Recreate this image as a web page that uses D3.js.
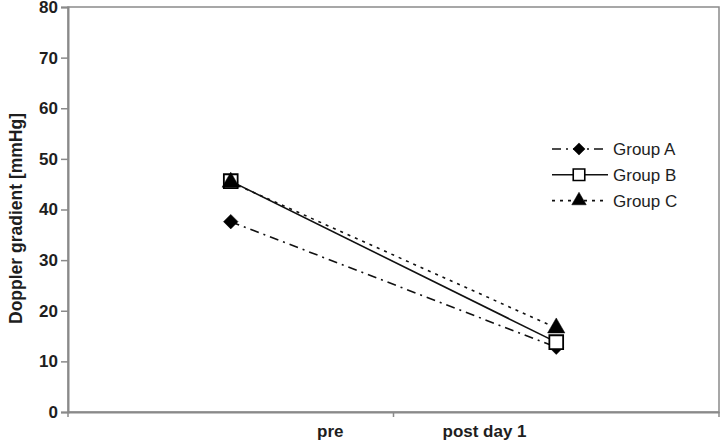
<!DOCTYPE html>
<html>
<head>
<meta charset="utf-8">
<script src="https://cdn.jsdelivr.net/npm/d3@7"></script>
<style>
  body { margin: 0; background: #fff; }
  svg { font-family: "Liberation Sans", Arial, sans-serif; }
</style>
</head>
<body>
<svg id="grafico"></svg>
<script>
const largura = 726;
const altura = 442;
const margem = { top: 7, right: 7, bottom: 30, left: 68 };

// Dados
const momentos = ["pre", "post day 1"];
const grupos = ["Group A", "Group B", "Group C"];
const grupoA = [37.6, 12.8];
const grupoB = [45.6, 13.8];
const grupoC = [45.4, 16.6];
const ticksY = [0, 10, 20, 30, 40, 50, 60, 70, 80];

const series = [
  { nome: grupos[0], valores: grupoA, traco: "9,5,2,5", simbolo: d3.symbolSquare, giro: 45, tamanho: 105, preench: "#000" },
  { nome: grupos[1], valores: grupoB, traco: null, simbolo: d3.symbolSquare, giro: 0, tamanho: 190, preench: "#fff" },
  { nome: grupos[2], valores: grupoC, traco: "3,5", simbolo: d3.symbolTriangle, giro: 0, tamanho: 130, preench: "#000" }
];

const svg = d3.select("#grafico")
  .attr("width", largura)
  .attr("height", altura);

// Escalas
const x = d3.scaleBand()
  .domain(momentos)
  .range([margem.left, largura - margem.right]);

const y = d3.scaleLinear()
  .domain([0, 80])
  .range([altura - margem.bottom, margem.top]);

const cinza = "#8a8a8a";
const texto = "#1e1e1e";

// Moldura
svg.append("rect")
  .attr("x", margem.left)
  .attr("y", margem.top)
  .attr("width", largura - margem.left - margem.right)
  .attr("height", altura - margem.top - margem.bottom)
  .attr("fill", "none")
  .attr("stroke", cinza)
  .attr("stroke-width", 1.5);

// Eixo Y
const eixoY = svg.append("g")
  .attr("transform", `translate(${margem.left}, 0)`)
  .call(d3.axisLeft(y).tickValues(ticksY).tickSize(7).tickPadding(3));
eixoY.select(".domain").attr("stroke", cinza).attr("stroke-width", 2);
eixoY.selectAll(".tick line").attr("stroke", cinza).attr("stroke-width", 1.5);
eixoY.selectAll(".tick text")
  .attr("font-size", 17)
  .attr("font-weight", "bold")
  .attr("fill", texto)
  .attr("font-family", "Liberation Sans, Arial, sans-serif");

svg.append("text")
  .attr("transform", `translate(22, ${(margem.top + altura - margem.bottom) / 2 + 9}) rotate(-90)`)
  .attr("text-anchor", "middle")
  .attr("font-size", 17.5)
  .attr("font-weight", "bold")
  .attr("fill", texto)
  .text("Doppler gradient [mmHg]");

// Eixo X
const eixoX = svg.append("g")
  .attr("transform", `translate(0, ${altura - margem.bottom})`)
  .call(d3.axisBottom(x).tickSize(0).tickPadding(13));
eixoX.select(".domain").attr("stroke", cinza).attr("stroke-width", 2);
const meio = x(momentos[1]);
eixoX.selectAll(".tick text")
  .attr("font-size", 17)
  .attr("font-weight", "bold")
  .attr("fill", texto)
  .attr("font-family", "Liberation Sans, Arial, sans-serif")
  .attr("text-anchor", (d, i) => i === 0 ? "end" : "start")
  .attr("x", d => d === momentos[0]
    ? meio - 50 - (x(d) + x.bandwidth() / 2)
    : meio + 49 - (x(d) + x.bandwidth() / 2));

// Marcas de divisão das categorias
const limites = momentos.map(d => x(d)).concat([x.range()[1]]);
svg.append("g")
  .selectAll("line")
  .data(limites)
  .join("line")
  .attr("x1", d => d)
  .attr("x2", d => d)
  .attr("y1", altura - margem.bottom)
  .attr("y2", altura - margem.bottom + 5)
  .attr("stroke", cinza)
  .attr("stroke-width", 1.5);

// Linhas e símbolos
const cx = (d, i) => x(momentos[i]) + x.bandwidth() / 2;
const linha = d3.line()
  .x(cx)
  .y(d => y(d));

series.forEach(s => {
  svg.append("path")
    .datum(s.valores)
    .attr("fill", "none")
    .attr("stroke", "#111")
    .attr("stroke-width", 1.6)
    .attr("stroke-dasharray", s.traco)
    .attr("d", linha);
});

series.forEach(s => {
  svg.append("g")
    .selectAll("path")
    .data(s.valores)
    .join("path")
    .attr("transform", (d, i) => `translate(${cx(d, i)}, ${y(d)}) rotate(${s.giro})`)
    .attr("d", d3.symbol().type(s.simbolo).size(s.tamanho))
    .attr("fill", s.preench)
    .attr("stroke", "#000")
    .attr("stroke-width", s.preench === "#fff" ? 1.8 : 0.5);
});

// Legenda
const legenda = svg.append("g")
  .attr("transform", "translate(552, 149)");

const item = legenda.selectAll("g")
  .data(series)
  .join("g")
  .attr("transform", (d, i) => `translate(0, ${i * 25.8})`);

item.append("line")
  .attr("x1", 0)
  .attr("x2", 56)
  .attr("stroke", "#111")
  .attr("stroke-width", 1.6)
  .attr("stroke-dasharray", d => d.traco);

item.append("path")
  .attr("transform", d => `translate(27, 0) rotate(${d.giro})`)
  .attr("d", d => d3.symbol().type(d.simbolo).size(d.tamanho * 0.7)())
  .attr("fill", d => d.preench)
  .attr("stroke", "#000")
  .attr("stroke-width", d => d.preench === "#fff" ? 1.6 : 0.5);

item.append("text")
  .attr("x", 61)
  .attr("y", 6)
  .attr("font-size", 17)
  .attr("fill", texto)
  .text(d => d.nome);
</script>
</body>
</html>
